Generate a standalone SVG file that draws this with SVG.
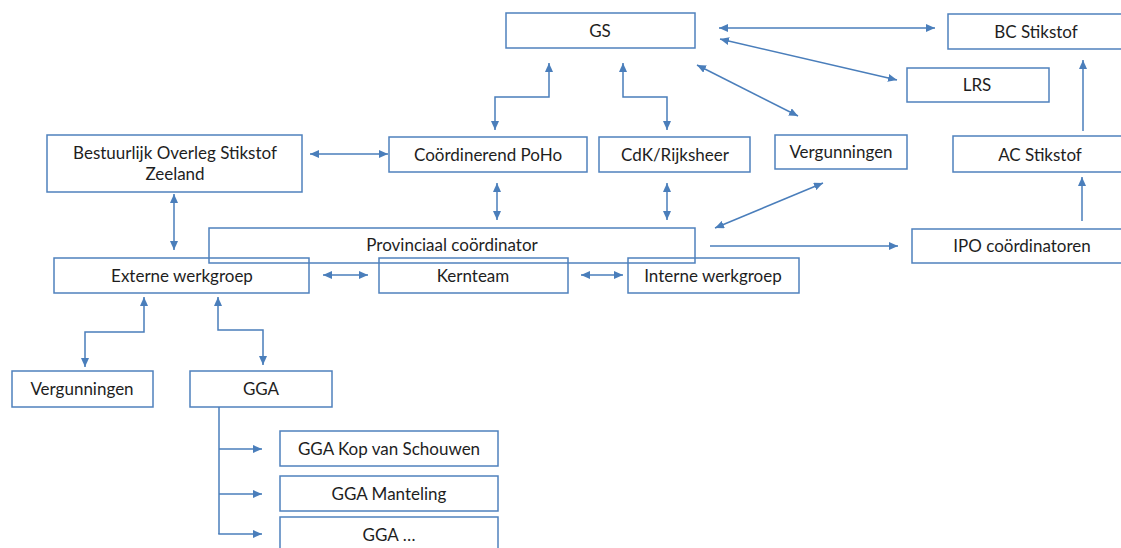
<svg xmlns="http://www.w3.org/2000/svg" width="1121" height="548" viewBox="0 0 1121 548">
<defs>
<marker id="ah" markerUnits="userSpaceOnUse" markerWidth="9" markerHeight="8" refX="9" refY="4" orient="auto-start-reverse" viewBox="0 0 9 8">
<path d="M0,0 L9,4 L0,8 z" fill="#4a7ebb"/>
</marker>
<style>
.box{fill:none;stroke:#4f81bd;stroke-width:1.5}
.lbl{font-family:Lato,"Liberation Sans",sans-serif;font-size:17px;fill:#1e1e1e;text-anchor:middle}
.c{fill:none;stroke:#4a7ebb;stroke-width:1.5}
.b{marker-start:url(#ah);marker-end:url(#ah)}
.e{marker-end:url(#ah)}
</style>
</defs>
<rect width="1121" height="548" fill="#fff"/>
<g id="n-gs"><rect class="box" x="506" y="13" width="189" height="35"/><text class="lbl" x="600" y="36.5">GS</text></g>
<g id="n-bc"><rect class="box" x="948" y="14" width="176" height="35"/><text class="lbl" x="1036" y="37.5">BC Stikstof</text></g>
<g id="n-lrs"><rect class="box" x="907" y="68" width="142" height="34"/><text class="lbl" x="977" y="90.5">LRS</text></g>
<g id="n-bos"><rect class="box" x="47" y="135" width="255" height="57"/><text class="lbl" x="175" y="158.5">Bestuurlijk Overleg Stikstof</text><text class="lbl" x="175" y="179.5">Zeeland</text></g>
<g id="n-poho"><rect class="box" x="389" y="137" width="198" height="35"/><text class="lbl" x="488" y="160.5">Coördinerend PoHo</text></g>
<g id="n-cdk"><rect class="box" x="599" y="137" width="151" height="35"/><text class="lbl" x="675" y="160.5">CdK/Rijksheer</text></g>
<g id="n-verg1"><rect class="box" x="775" y="135" width="132" height="34"/><text class="lbl" x="841" y="157.5">Vergunningen</text></g>
<g id="n-ac"><rect class="box" x="953" y="136" width="175" height="36"/><text class="lbl" x="1040" y="160.5">AC Stikstof</text></g>
<g id="n-prov"><rect class="box" x="209" y="228" width="486" height="35"/><text class="lbl" x="452" y="250.5">Provinciaal coördinator</text></g>
<g id="n-ipo"><rect class="box" x="912" y="229" width="220" height="34"/><text class="lbl" x="1022" y="251.5">IPO coördinatoren</text></g>
<g id="n-ext"><rect class="box" x="54" y="258" width="255" height="35"/><text class="lbl" x="182" y="281.5">Externe werkgroep</text></g>
<g id="n-kern"><rect class="box" x="379" y="258" width="189" height="35"/><text class="lbl" x="473" y="281.5">Kernteam</text></g>
<g id="n-int"><rect class="box" x="628" y="258" width="171" height="35"/><text class="lbl" x="713" y="281.5">Interne werkgroep</text></g>
<g id="n-verg2"><rect class="box" x="12" y="371" width="141" height="36"/><text class="lbl" x="82" y="394.5">Vergunningen</text></g>
<g id="n-gga"><rect class="box" x="190" y="371" width="142" height="36"/><text class="lbl" x="261" y="394.5">GGA</text></g>
<g id="n-gga-kop"><rect class="box" x="280" y="431" width="218" height="35"/><text class="lbl" x="389" y="454.5">GGA Kop van Schouwen</text></g>
<g id="n-gga-man"><rect class="box" x="280" y="476" width="218" height="35"/><text class="lbl" x="389" y="499.5">GGA Manteling</text></g>
<g id="n-gga-etc"><rect class="box" x="280" y="517" width="218" height="36"/><text class="lbl" x="389" y="540.5">GGA …</text></g>
<g id="connectors">
<path class="c b" d="M719,28 H935"/>
<path class="c b" d="M720,39 L897,80"/>
<path class="c b" d="M697,65 L798,116"/>
<path class="c b" d="M495,130 V97 H549 V63"/>
<path class="c b" d="M667,130 V97 H623 V63"/>
<path class="c b" d="M310,154 H388"/>
<path class="c e" d="M1083,131 V60"/>
<path class="c e" d="M1082,221 V177"/>
<path class="c b" d="M497,183 V220"/>
<path class="c b" d="M667,183 V220"/>
<path class="c b" d="M715,228 L823,183"/>
<path class="c e" d="M710,246 H898"/>
<path class="c b" d="M174,194 V250"/>
<path class="c b" d="M323,275 H368"/>
<path class="c b" d="M581,275 H623"/>
<path class="c b" d="M144,297 V332 H85 V367"/>
<path class="c b" d="M218,297 V330 H263 V365"/>
<path class="c" d="M219,407 V534"/>
<path class="c e" d="M219,449 H262"/>
<path class="c e" d="M219,494 H262"/>
<path class="c e" d="M218.25,534 H262"/>
</g>
</svg>
